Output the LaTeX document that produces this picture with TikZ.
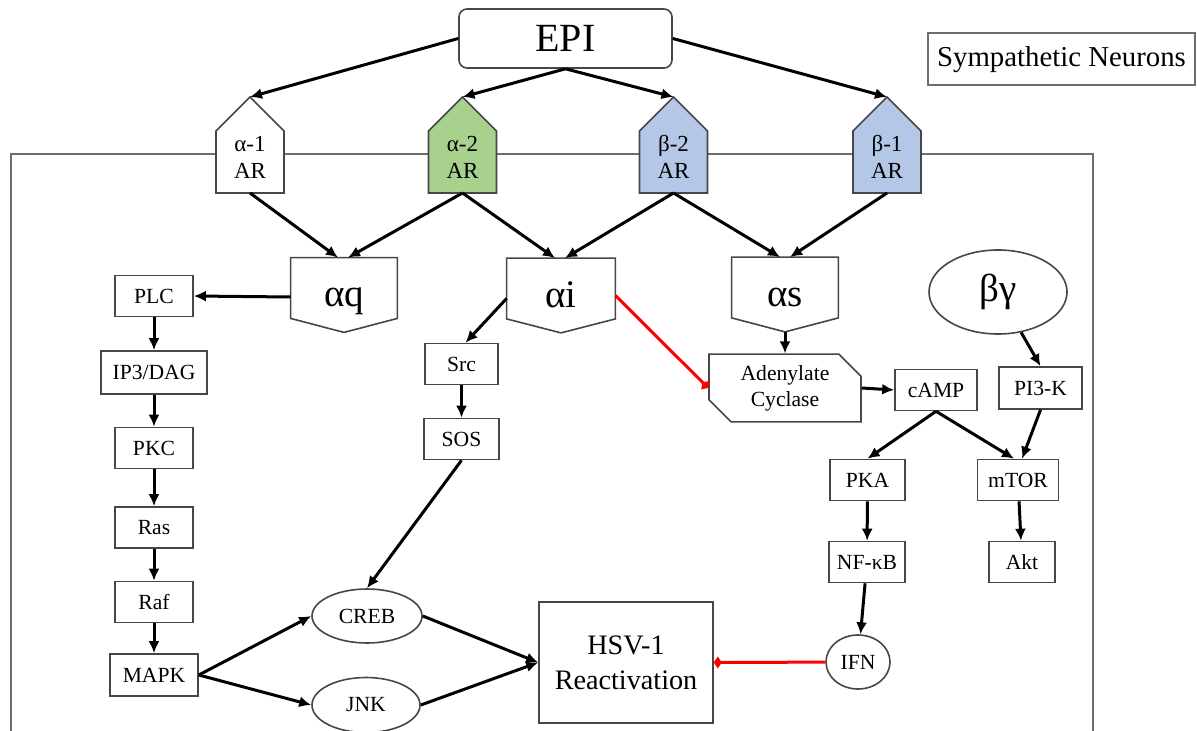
\documentclass[tikz,border=0pt]{standalone}
\usepackage{fontspec}
\setmainfont{Liberation Serif}
\usetikzlibrary{shapes.geometric,shapes.misc,arrows.meta}
\definecolor{recgreen}{RGB}{169,209,142}
\definecolor{recblue}{RGB}{180,199,231}
\definecolor{edgegray}{RGB}{70,70,70}
\definecolor{framegray}{RGB}{110,110,110}

\begin{document}
\begin{tikzpicture}[x=0.5pt,y=-0.5pt,
	box/.style={draw=edgegray,line width=0.8pt,inner sep=0pt,minimum height=20.5pt,font=\fontsize{10.8}{13}\selectfont},
	oval/.style={ellipse,draw=edgegray,line width=0.8pt,inner sep=0pt,font=\fontsize{10.8}{13}\selectfont},
	gprot/.style={inner sep=0pt,minimum width=53pt,minimum height=30pt,text height=19pt,text depth=0pt,font=\fontsize{19.5}{20}\selectfont},
	shell/.style={draw=edgegray,line width=0.8pt},
	act/.style={-{Latex[length=6pt,width=5.5pt]},line width=1.5pt},
	inh/.style={-{Diamond[length=4pt,width=6pt]},line width=1.5pt,red}]
	\clip (0,0) rectangle (1197,731);
	\draw[framegray,line width=1pt] (11,760)--(11,154)--(1093,154)--(1093,760);

	\node[draw=edgegray,line width=0.8pt,rounded corners=4pt,minimum width=106.5pt,minimum height=29.5pt,font=\fontsize{20}{22}\selectfont] at (565.5,38.5)(epi){EPI};
	\node[draw=framegray,line width=1pt,minimum width=133.5pt,minimum height=26pt,font=\fontsize{14.4}{16}\selectfont] at (1061.5,59.5)(symp){Sympathetic Neurons};

	\foreach \x/\col/\lbl/\n in {250/white/α-1/ar1, 462.5/recgreen/α-2/ar2, 673.5/recblue/β-2/br2, 887/recblue/β-1/br1}{
		\draw[shell,fill=\col] (\x-34,193)--(\x+34,193)--(\x+34,131)--(\x,97)--(\x-34,131)--cycle;
		\node[align=center,font=\fontsize{11.5}{13.5}\selectfont] at (\x,157)(\n){\lbl\\AR};
		\coordinate (\n-top) at (\x,97);
		\coordinate (\n-bot) at (\x,193);
	}

	\node[gprot] at (344,288)(gq){αq};
	\node[gprot,minimum width=54pt] at (561,288.5)(gi){αi};
	\node[gprot] at (785,287.5)(gs){αs};
	\foreach \g in {gq,gi,gs}
		\draw[shell] (\g.north west)--(\g.north east)--(\g.south east)--([yshift=-7pt]\g.south)--(\g.south west)--cycle;
	\node[oval,minimum width=69pt,minimum height=42pt,font=\fontsize{19.5}{20}\selectfont] at (998,292)(bg){βγ};

	\node[box,chamfered rectangle,chamfered rectangle corners={north east,south west},chamfered rectangle xsep=5.5pt,chamfered rectangle ysep=5.5pt,minimum width=76pt,minimum height=32pt,align=center] at (785,388)(ac){Adenylate\\Cyclase};

	\node[box,minimum width=39pt] at (154,296)(plc){PLC};
	\node[box,minimum width=53pt,minimum height=21.5pt] at (154,372.5)(ip3){IP3/DAG};
	\node[box,minimum width=39pt] at (154,448)(pkc){PKC};
	\node[box,minimum width=39pt] at (154,527.5)(ras){Ras};
	\node[box,minimum width=39pt] at (154,602)(raf){Raf};
	\node[box,minimum width=44pt,minimum height=21pt] at (154,675)(mapk){MAPK};
	\node[box,minimum width=36.5pt] at (461.5,364)(src){Src};
	\node[box,minimum width=37.5pt] at (461.5,439)(sos){SOS};
	\node[box,minimum width=41pt] at (936,390)(camp){cAMP};
	\node[box,minimum width=41.5pt,minimum height=21pt] at (1040.5,388)(pi3k){PI3-K};
	\node[box,minimum width=37.5pt] at (867.5,480)(pka){PKA};
	\node[box,minimum width=40.5pt] at (1018,480)(mtor){mTOR};
	\node[box,minimum width=38pt] at (867,562)(nfkb){NF-κB};
	\node[box,minimum width=33pt] at (1022,562)(akt){Akt};
	\node[oval,minimum width=55pt,minimum height=27pt] at (367,616)(creb){CREB};
	\node[oval,minimum width=54pt,minimum height=27.5pt] at (366,705)(jnk){JNK};
	\node[oval,minimum width=32pt,minimum height=27pt] at (858,662)(ifn){IFN};
	\node[box,minimum width=87pt,minimum height=60.5pt,align=center,font=\fontsize{14.1}{17.5}\selectfont] at (626,662.5)(hsv){HSV-1\\Reactivation};

	\path[act] (epi.west)edge(ar1-top)(epi.south)edge(ar2-top)(epi.south)edge(br2-top)(epi.east)edge(br1-top);
	\path[act] (ar1-bot)edge([xshift=-3pt]gq.north)(ar2-bot)edge([xshift=2pt]gq.north)(ar2-bot)edge([xshift=-3pt]gi.north)(br2-bot)edge([xshift=2pt]gi.north)(br2-bot)edge([xshift=-2.5pt]gs.north)(br1-bot)edge([xshift=2.5pt]gs.north);
	\path[act] ([yshift=-4.5pt]gq.west)edge(plc.east)(plc)edge(ip3)(ip3)edge(pkc)(pkc)edge(ras)(ras)edge(raf)(raf)edge(mapk)
		([yshift=-5pt]gi.west)edge([xshift=2pt]src.north)(src)edge(sos)(sos.south)edge(creb.north)
		([yshift=-7pt]gs.south)edge(ac.north)(ac.east)edge(camp.west)(bg)edge(pi3k.north)
		(camp.south)edge(pka.north)(camp.south)edge([xshift=-2pt]mtor.north)(pi3k.south)edge([xshift=2pt]mtor.north)
		(mtor)edge(akt)(pka)edge(nfkb)(nfkb)edge(ifn)
		(mapk.east)edge(creb.west)(mapk.east)edge(jnk.west)(creb.east)edge(hsv.west)(jnk.east)edge(hsv.west);
	\path[inh] ([yshift=-3.5pt]gi.east)edge(ac.west)(ifn)edge(hsv.east);
\end{tikzpicture}
\end{document}
